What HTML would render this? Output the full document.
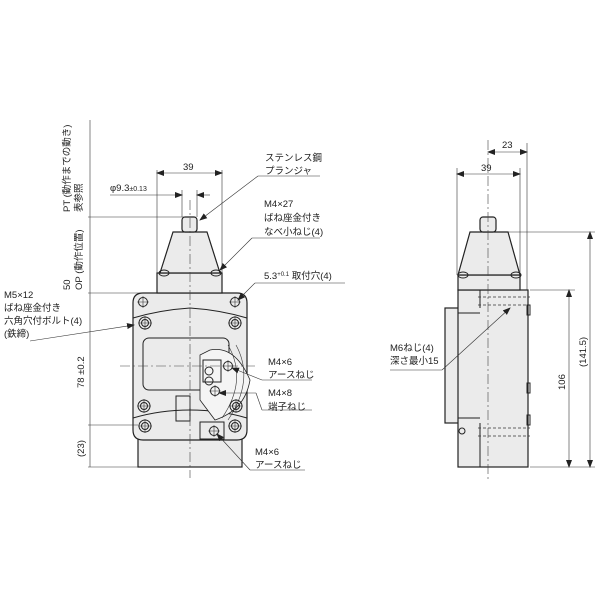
<!DOCTYPE html>
<html><head><meta charset="utf-8"><style>
body{margin:0;background:#fff}
svg{display:block}
text{font-family:"Liberation Sans","Noto Sans CJK JP",sans-serif;font-size:9.5px;fill:#222}
.s{stroke:#222;stroke-width:1;fill:none}
.f{stroke:#222;stroke-width:1.2;fill:#ebebeb}
.t{stroke:#333;stroke-width:0.6;fill:none}
.c{stroke:#444;stroke-width:0.6;fill:none;stroke-dasharray:10 3 2 3}
.d{stroke:#333;stroke-width:0.8;fill:none;stroke-dasharray:3 2}
</style></head><body>
<svg width="600" height="600" viewBox="0 0 600 600">
<defs>
<marker id="a" markerWidth="8" markerHeight="6" refX="7" refY="3" orient="auto-start-reverse" markerUnits="userSpaceOnUse"><path d="M0,0 L8,3 L0,6 z" fill="#222"/></marker>
<g id="h"><circle r="6" class="s"/><circle r="3.5" class="s"/><path d="M-7,0H7M0,-7V7" class="t"/></g>
<g id="hs"><circle r="4.5" class="s"/><path d="M-6,0H6M0,-6V6" class="t"/></g>
</defs>

<!-- FRONT VIEW -->
<rect x="138" y="430" width="104" height="37" class="f"/>
<path d="M143,293 H237 Q247,293 247,303 V430 Q247,440 237,440 H143 Q133,440 133,430 V303 Q133,293 143,293 Z" class="f"/>
<path d="M133,318 Q160,310 190,308 Q220,310 247,318" class="s"/>
<path d="M133,418 Q160,410 190,410 Q220,410 247,418" class="s"/>
<rect x="157" y="273" width="65" height="20" class="f"/>
<path d="M160,273 L173,232 H207 L220,273 Z" class="f"/>
<rect x="182" y="217" width="15" height="15" rx="3" class="f"/>
<ellipse cx="164" cy="273" rx="5" ry="3" class="s"/><ellipse cx="216" cy="273" rx="5" ry="3" class="s"/>
<rect x="143" y="338" width="86" height="52" rx="6" class="s"/>
<path d="M210,350 Q235,345 250,380 Q245,410 215,420 L200,400 L200,355 Z" fill="#f4f4f4" stroke="#222" stroke-width="0.8"/>
<path d="M228,345 Q248,380 222,418 M236,345 Q255,380 228,420" class="t"/>
<rect x="203" y="360" width="18" height="22" class="s"/>
<circle cx="209" cy="381" r="4" class="s"/><circle cx="209" cy="371" r="4" class="s"/>
<use href="#hs" x="228" y="366"/><use href="#hs" x="215" y="391"/>
<rect x="176" y="396" width="14" height="25" class="s"/>
<rect x="200" y="422" width="24" height="17" class="s"/>
<use href="#hs" x="214" y="431"/>
<use href="#hs" x="143" y="302"/><use href="#hs" x="235" y="302"/>
<use href="#h" x="145" y="323"/><use href="#h" x="235" y="323"/>
<use href="#h" x="144" y="406"/><use href="#h" x="236" y="406"/>
<use href="#h" x="145" y="426"/><use href="#h" x="235" y="426"/>
<line x1="190" y1="200" x2="190" y2="478" class="c"/>
<line x1="120" y1="366" x2="255" y2="366" class="c"/>

<!-- front dims -->
<line x1="157" y1="170" x2="157" y2="273" class="t"/><line x1="222" y1="170" x2="222" y2="273" class="t"/>
<line x1="157" y1="173" x2="222" y2="173" class="t" marker-start="url(#a)" marker-end="url(#a)"/>
<text x="183" y="170">39</text>
<line x1="182" y1="190" x2="182" y2="217" class="t"/><line x1="197" y1="190" x2="197" y2="217" class="t"/>
<line x1="110" y1="195" x2="182" y2="195" class="t" marker-end="url(#a)"/>
<line x1="197" y1="195" x2="210" y2="195" class="t" marker-start="url(#a)"/>
<text x="110" y="191">φ9.3<tspan font-size="7">±0.13</tspan></text>
<line x1="90" y1="120" x2="90" y2="467" class="t"/>
<line x1="88" y1="217" x2="185" y2="217" class="t"/>
<line x1="88" y1="293" x2="157" y2="293" class="t"/>
<line x1="88" y1="425" x2="138" y2="425" class="t"/>
<line x1="88" y1="467" x2="138" y2="467" class="t"/>
<text transform="translate(70,212) rotate(-90)">PT (動作までの動き)</text>
<text transform="translate(82,212) rotate(-90)">表参照</text>
<text transform="translate(70,290) rotate(-90)">50</text>
<text transform="translate(82,290) rotate(-90)">OP (動作位置)</text>
<text transform="translate(84,388) rotate(-90)" font-size="8.5">78 ±0.2</text>
<text transform="translate(84,457) rotate(-90)" font-size="8.5">(23)</text>

<!-- front leaders -->
<line x1="200" y1="220" x2="258" y2="176" class="t" marker-start="url(#a)"/><line x1="258" y1="176" x2="320" y2="176" class="t"/>
<text x="265" y="161">ステンレス鋼</text><text x="265" y="174">プランジャ</text>
<line x1="220" y1="270" x2="252" y2="238" class="t" marker-start="url(#a)"/><line x1="252" y1="238" x2="320" y2="238" class="t"/>
<text x="264" y="207">M4×27</text><text x="264" y="221">ばね座金付き</text><text x="264" y="235">なべ小ねじ(4)</text>
<line x1="238" y1="300" x2="255" y2="283" class="t" marker-start="url(#a)"/><line x1="255" y1="283" x2="345" y2="283" class="t"/>
<text x="264" y="279">5.3<tspan font-size="6" dy="-3">+0.1</tspan><tspan dy="3"> 取付穴(4)</tspan></text>
<line x1="232" y1="368" x2="262" y2="380" class="t" marker-start="url(#a)"/><line x1="262" y1="380" x2="312" y2="380" class="t"/>
<text x="268" y="365">M4×6</text><text x="268" y="378">アースねじ</text>
<line x1="219" y1="393" x2="256" y2="393" class="t" marker-start="url(#a)"/><line x1="256" y1="393" x2="262" y2="410" class="t"/><line x1="262" y1="410" x2="312" y2="410" class="t"/>
<text x="268" y="396">M4×8</text><text x="268" y="410">端子ねじ</text>
<line x1="217" y1="434" x2="250" y2="470" class="t" marker-start="url(#a)"/><line x1="250" y1="470" x2="305" y2="470" class="t"/>
<text x="255" y="455">M4×6</text><text x="255" y="468">アースねじ</text>
<line x1="30" y1="341" x2="134" y2="325" class="t" marker-end="url(#a)"/>
<text x="4" y="298">M5×12</text><text x="4" y="311">ばね座金付き</text><text x="4" y="324">六角穴付ボルト(4)</text><text x="4" y="337">(鉄締)</text>

<!-- SIDE VIEW -->
<rect x="445" y="308" width="17" height="115" class="f"/>
<rect x="458" y="290" width="70" height="177" class="f"/>
<line x1="480" y1="290" x2="480" y2="308" class="s"/><line x1="480" y1="423" x2="480" y2="467" class="s"/>
<line x1="458" y1="313" x2="480" y2="313" class="s"/><line x1="458" y1="418" x2="480" y2="418" class="s"/>
<rect x="458" y="275" width="62" height="15" class="f"/>
<path d="M458,275 L470,232 H508 L520,275 Z" class="f"/>
<rect x="480" y="217" width="16" height="15" rx="3" class="f"/>
<ellipse cx="463" cy="275" rx="5" ry="3" class="s"/><ellipse cx="516" cy="275" rx="5" ry="3" class="s"/>
<line x1="478" y1="297" x2="530" y2="297" class="d"/><line x1="478" y1="305" x2="530" y2="305" class="d"/>
<line x1="478" y1="428" x2="530" y2="428" class="d"/><line x1="478" y1="436" x2="530" y2="436" class="d"/>
<rect x="527" y="305" width="3" height="10" class="s"/><rect x="527" y="383" width="3" height="10" class="s"/><rect x="527" y="415" width="3" height="10" class="s"/>
<circle cx="462" cy="431" r="3" class="s"/>
<line x1="488" y1="140" x2="488" y2="480" class="c"/>
<!-- side dims -->
<line x1="457" y1="168" x2="457" y2="275" class="t"/><line x1="520" y1="168" x2="520" y2="275" class="t"/>
<line x1="457" y1="174" x2="520" y2="174" class="t" marker-start="url(#a)" marker-end="url(#a)"/>
<text x="481" y="171">39</text>
<line x1="527" y1="143" x2="527" y2="290" class="t"/>
<line x1="488" y1="152" x2="527" y2="152" class="t" marker-start="url(#a)" marker-end="url(#a)"/>
<text x="502" y="148">23</text>
<line x1="508" y1="232" x2="595" y2="232" class="t"/>
<line x1="530" y1="290" x2="575" y2="290" class="t"/>
<line x1="530" y1="467" x2="595" y2="467" class="t"/>
<line x1="590" y1="232" x2="590" y2="467" class="t" marker-start="url(#a)" marker-end="url(#a)"/>
<line x1="569" y1="290" x2="569" y2="467" class="t" marker-start="url(#a)" marker-end="url(#a)"/>
<text transform="translate(586,367) rotate(-90)" font-size="8.5">(141.5)</text>
<text transform="translate(565,390) rotate(-90)" font-size="8.5">106</text>
<line x1="390" y1="370" x2="442" y2="370" class="t"/><line x1="442" y1="370" x2="510" y2="308" class="t" marker-end="url(#a)"/>
<text x="390" y="351">M6ねじ(4)</text><text x="390" y="364">深さ最小15</text>
</svg>
</body></html>
